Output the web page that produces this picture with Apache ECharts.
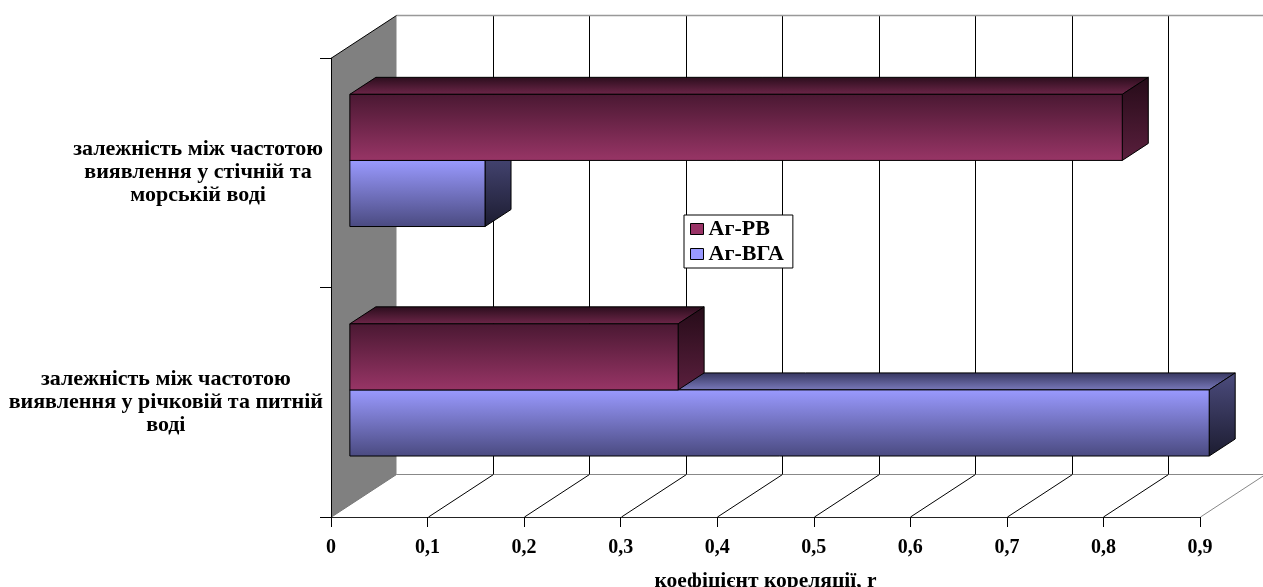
<!DOCTYPE html>
<html>
<head>
<meta charset="utf-8">
<script src="https://cdn.jsdelivr.net/npm/echarts@6/dist/echarts.min.js"></script>
<style>
  html, body { margin: 0; padding: 0; background: #fff; overflow: hidden; }
  #chart { width: 1263px; height: 587px; }
</style>
</head>
<body>
<div id="chart"></div>
<script>
// Categories (first one is drawn at the bottom of the category axis)
const CATEGORIES = [
  ['залежність між частотою', 'виявлення у річковій та питній', 'воді'],
  ['залежність між частотою', 'виявлення у стічній та', 'морській воді']
];
const SERIES_NAMES = ['Аг-РВ', 'Аг-ВГА'];
// Correlation coefficients, one per category
const AG_RV = [0.34, 0.80];
const AG_VGA = [0.89, 0.14];
// Value axis
const X_MIN = 0, X_MAX = 0.9, X_STEP = 0.1;
const TICK_LABELS = ['0', '0,1', '0,2', '0,3', '0,4', '0,5', '0,6', '0,7', '0,8', '0,9'];
const X_TITLE = 'коефіцієнт кореляції, r';

// Pseudo-3D geometry: offset from the front plane to the back wall (px)
const DEPTH = [65, -42.5];
const BAR_FRONT = 0.29;   // bar front face, as a fraction of the depth
const BAR_BACK = 0.69;    // bar back face
const BAR_RATIO = 0.288;  // bar thickness relative to a category band

const FONT = "'Liberation Serif', 'Times New Roman', serif";

const PALETTE = {
  rv: {
    front: ['#4a1832', '#983566'],
    top: ['#2a0d1c', '#6e2649'],
    side: ['#250b18', '#5a1f3d'],
    swatch: '#993366'
  },
  vga: {
    front: ['#9a9aff', '#4a4a80'],
    top: ['#35355e', '#7a7abc'],
    side: ['#4c4c7e', '#1c1c30'],
    swatch: '#9999ff'
  }
};

function grad(c) {
  return { type: 'linear', x: 0, y: 0, x2: 0, y2: 1,
    colorStops: [{ offset: 0, color: c[0] }, { offset: 1, color: c[1] }] };
}

function line(x1, y1, x2, y2, color, width) {
  return { type: 'line', silent: true,
    shape: { x1: x1, y1: y1, x2: x2, y2: y2 },
    style: { stroke: color, lineWidth: width || 1 } };
}

// Walls and floor of the 3D box, laid out on the value axis ticks
function renderFrame(params, api) {
  const cs = params.coordSys;
  const yt = cs.y, yb = cs.y + cs.height;
  const dx = DEPTH[0], dy = DEPTH[1];
  const ticks = [];
  for (let i = 0; i < TICK_LABELS.length; i++) {
    ticks.push(Math.round(api.coord([X_MIN + i * X_STEP, 0])[0]) + 0.5);
  }
  const xs = ticks[0], xe = ticks[ticks.length - 1];
  const children = [];
  // back wall
  children.push({ type: 'rect', silent: true,
    shape: { x: xs + dx, y: yt + dy, width: xe - xs, height: cs.height },
    style: { fill: '#fff' } });
  for (let i = 1; i < ticks.length; i++) {
    children.push(line(ticks[i] + dx, yt + dy, ticks[i] + dx, yb + dy, '#000', 1));
  }
  children.push(line(xs + dx, yt + dy, xe + dx, yt + dy, '#999', 1.5));
  // floor
  children.push(line(xs + dx, yb + dy, xe + dx, yb + dy, '#888', 1.2));
  for (let i = 1; i < ticks.length; i++) {
    const last = i === ticks.length - 1;
    children.push(line(ticks[i], yb, ticks[i] + dx, yb + dy, last ? '#888' : '#000', 1));
  }
  // side wall
  children.push({ type: 'polygon', silent: true,
    shape: { points: [[xs, yt], [xs + dx, yt + dy], [xs + dx, yb + dy], [xs, yb]] },
    style: { fill: '#808080' } });
  children.push(line(xs, yt, xs + dx, yt + dy, '#000', 1));
  children.push(line(xs, yb, xs + dx, yb + dy, '#777', 1));
  children.push(line(xs, yt, xs, yb, '#000', 1));
  return { type: 'group', children: children };
}

function barRenderer(upper, pal) {
  return function (params, api) {
    const cat = api.value(1);
    const start = api.coord([0, cat]);
    const end = api.coord([api.value(0), cat]);
    const h = api.size([0, 1])[1] * BAR_RATIO;
    const fx = DEPTH[0] * BAR_FRONT, fy = DEPTH[1] * BAR_FRONT;
    const ddx = DEPTH[0] * (BAR_BACK - BAR_FRONT), ddy = DEPTH[1] * (BAR_BACK - BAR_FRONT);
    const x0 = start[0] + fx, x1 = end[0] + fx;
    const yc = start[1] + fy;
    const y0 = upper ? yc - h : yc;
    const y1 = y0 + h;
    const edge = { stroke: '#000', lineWidth: 1, lineJoin: 'round' };
    return {
      type: 'group',
      children: [
        { type: 'polygon',
          shape: { points: [[x0, y0], [x1, y0], [x1 + ddx, y0 + ddy], [x0 + ddx, y0 + ddy]] },
          style: Object.assign({ fill: grad(pal.top) }, edge) },
        { type: 'polygon',
          shape: { points: [[x1, y0], [x1 + ddx, y0 + ddy], [x1 + ddx, y1 + ddy], [x1, y1]] },
          style: Object.assign({ fill: grad(pal.side) }, edge) },
        { type: 'rect',
          shape: { x: x0, y: y0, width: x1 - x0, height: h },
          style: Object.assign({ fill: grad(pal.front) }, edge) }
      ]
    };
  };
}

function toData(values) {
  return values.map(function (v, i) { return [v, i]; });
}

const chart = echarts.init(document.getElementById('chart'), null, {
  renderer: 'canvas', width: 1263, height: 587
});

chart.setOption({
  backgroundColor: '#fff',
  animation: false,
  grid: {
    left: 331, top: 58, width: 869, height: 459,
    containLabel: false,
    outerBoundsMode: 'none'
  },
  legend: {
    orient: 'vertical',
    left: 684, top: 215,
    z: 10,
    padding: [3, 9, 3, 6],
    itemGap: 3,
    itemWidth: 13, itemHeight: 11,
    icon: 'rect',
    backgroundColor: '#fff',
    borderColor: '#000', borderWidth: 1, borderRadius: 0,
    textStyle: { fontFamily: FONT, fontWeight: 'bold', fontSize: 22, color: '#000' },
    data: [
      { name: SERIES_NAMES[0], itemStyle: { color: PALETTE.rv.swatch, borderColor: '#000', borderWidth: 1 } },
      { name: SERIES_NAMES[1], itemStyle: { color: PALETTE.vga.swatch, borderColor: '#000', borderWidth: 1 } }
    ]
  },
  xAxis: {
    type: 'value',
    min: X_MIN, max: X_MAX, interval: X_STEP,
    z: 5,
    axisLine: { show: true, lineStyle: { color: '#222', width: 1.2 } },
    axisTick: { show: true, length: 10, lineStyle: { color: '#000' } },
    splitLine: { show: false },
    axisLabel: {
      margin: 21,
      fontFamily: FONT, fontWeight: 'bold', fontSize: 20, color: '#000',
      formatter: function (v, i) { return TICK_LABELS[i]; }
    },
    name: X_TITLE,
    nameLocation: 'middle',
    nameGap: 64,
    nameTextStyle: { fontFamily: FONT, fontWeight: 'bold', fontSize: 21.5, color: '#000', verticalAlign: 'middle' }
  },
  yAxis: {
    type: 'category',
    data: CATEGORIES.map(function (lines) { return lines.join('\n'); }),
    z: 5,
    axisLine: { show: true, lineStyle: { color: '#000' } },
    axisTick: { show: true, length: 11, lineStyle: { color: '#000' } },
    splitLine: { show: false },
    axisLabel: {
      align: 'right',
      margin: 8,
      formatter: function (v) {
        return v.split('\n').map(function (s) { return '{c|' + s + '}'; }).join('\n');
      },
      rich: {
        c: {
          align: 'center', lineHeight: 23,
          fontFamily: FONT, fontWeight: 'bold', fontSize: 22, color: '#000'
        }
      }
    }
  },
  series: [
    {
      type: 'custom', name: 'frame', silent: true, z: 1,
      renderItem: renderFrame,
      data: [[0, 0]]
    },
    {
      type: 'custom', name: SERIES_NAMES[1], z: 2,
      itemStyle: { color: PALETTE.vga.swatch },
      renderItem: barRenderer(false, PALETTE.vga),
      data: toData(AG_VGA)
    },
    {
      type: 'custom', name: SERIES_NAMES[0], z: 3,
      itemStyle: { color: PALETTE.rv.swatch },
      renderItem: barRenderer(true, PALETTE.rv),
      data: toData(AG_RV)
    }
  ]
});
</script>
</body>
</html>
